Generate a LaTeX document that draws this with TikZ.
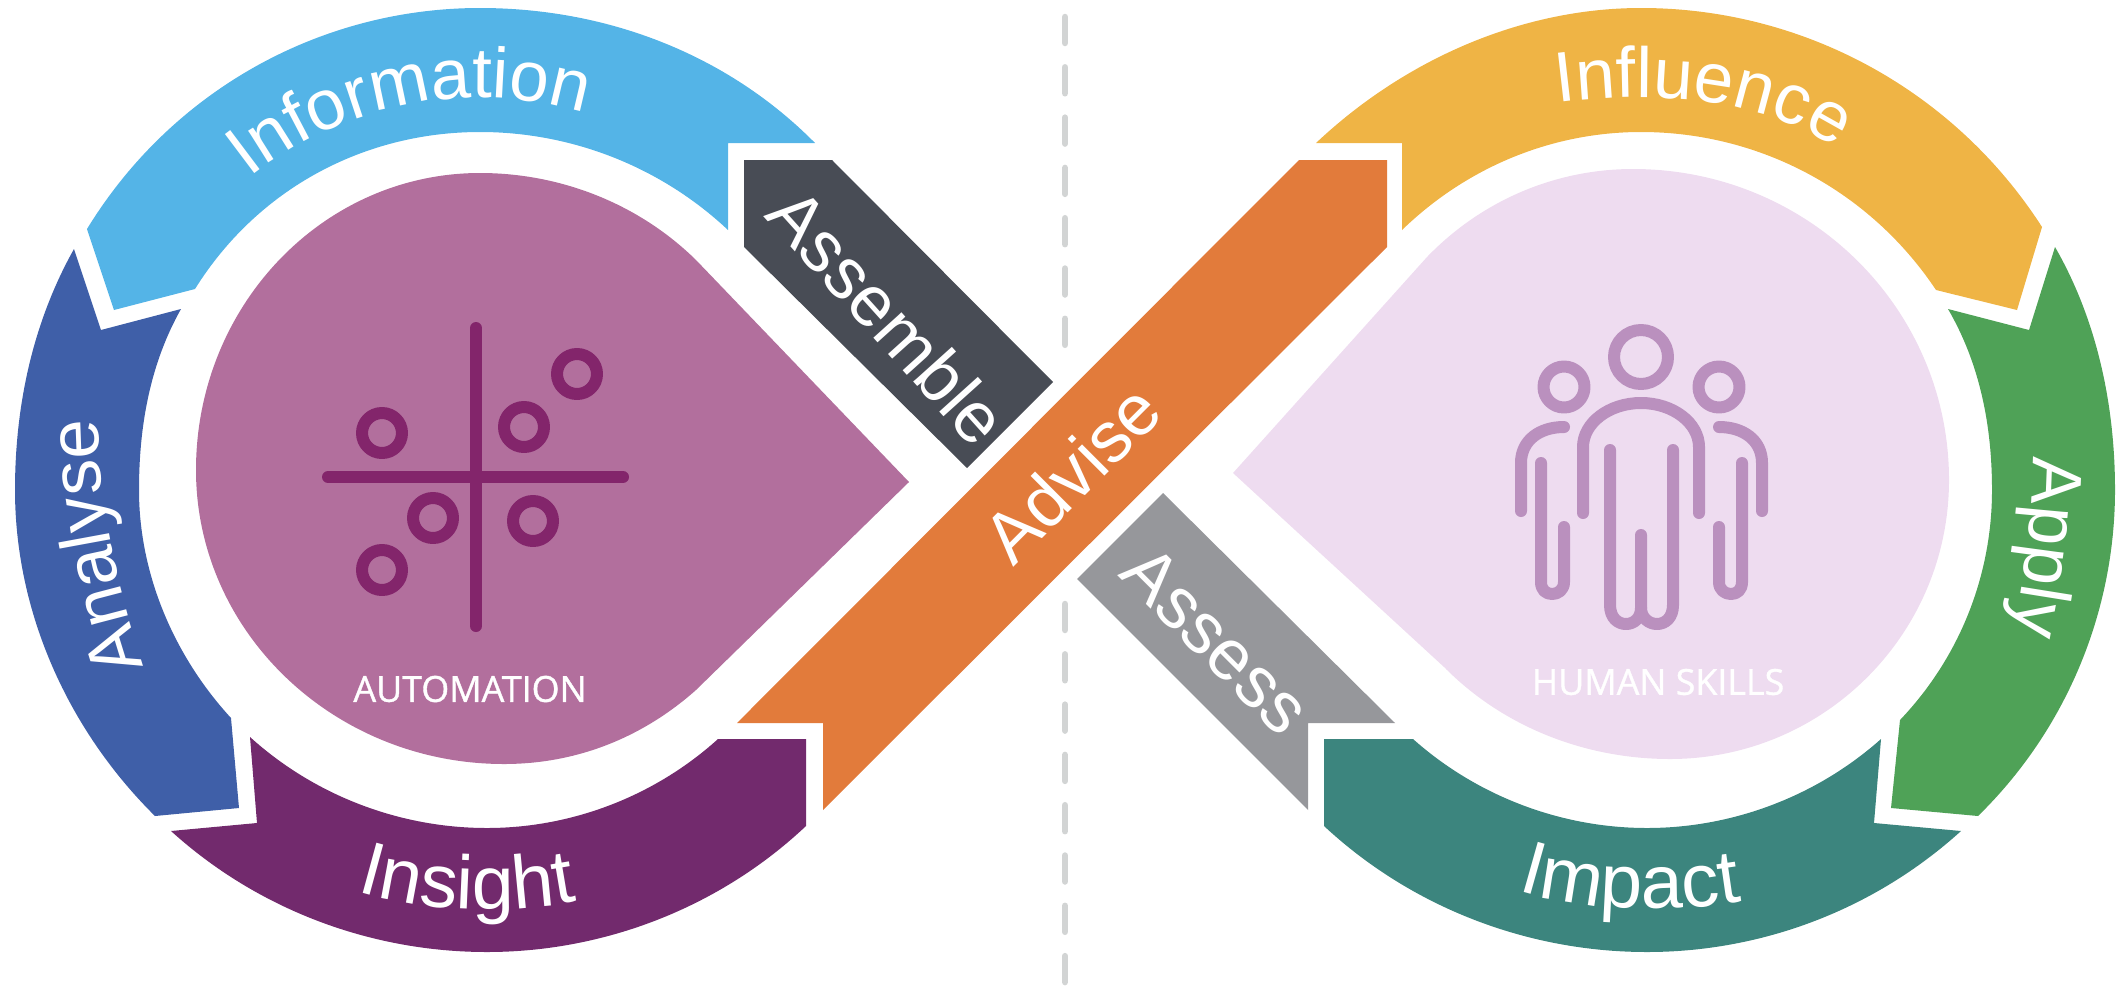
\documentclass[tikz,border=0pt]{standalone}
\usepackage{fontspec}
\setmainfont{Liberation Sans}
\newfontfamily\tagfont[FakeBold=1]{Open Sans}
\usetikzlibrary{decorations.text}
\definecolor{infoblue}{HTML}{54B4E7}
\definecolor{analyseblue}{HTML}{3F5FA8}
\definecolor{insightpurple}{HTML}{722A6D}
\definecolor{adviseorange}{HTML}{E27B3B}
\definecolor{assembleslate}{HTML}{484C55}
\definecolor{assessgrey}{HTML}{96979B}
\definecolor{impactteal}{HTML}{3C857E}
\definecolor{applygreen}{HTML}{4FA257}
\definecolor{influenceyellow}{HTML}{EFB445}
\definecolor{autofill}{HTML}{B26F9D}
\definecolor{autoicon}{HTML}{83256B}
\definecolor{humanfill}{HTML}{EEDCF0}
\definecolor{humanicon}{HTML}{BA90BE}
\definecolor{splitgrey}{HTML}{D2D4D4}
\newcommand\bandfont{\fontsize{20.2}{24}\selectfont\color{white}}
\newcommand\lowbandfont{\fontsize{21.5}{24}\selectfont\color{white}}
\tikzset{
  straightlabel/.style={text=white,anchor=base,inner sep=0pt,font=\fontsize{20.4}{24}\selectfont},
  taglabel/.style={text=white,inner sep=0pt,font=\tagfont\fontsize{10.2}{12}\selectfont},
  curvedlabel/.style={decorate,decoration={text along path,text align={align=center},text={|\bandfont|#1}}},
  lowcurvedlabel/.style={decorate,decoration={text along path,text align={align=center},text={|\lowbandfont|#1}}},
  iconline/.style={line width=1.2mm,line cap=round,line join=round,draw=#1},
  splitline/.style={draw=splitgrey,line width=0.65mm,line cap=round,dash pattern=on 2.6mm off 2.43mm}
}
\begin{document}
\begin{tikzpicture}[x=0.1mm,y=-0.1mm]
  \useasboundingbox (0,0) rectangle (2117,986);

  \coordinate (splittop) at (1065,17);
  \coordinate (splitmid) at (1065,349);
  \coordinate (splitlow) at (1065,604);
  \coordinate (splitend) at (1065,985);
  \draw[splitline] (splittop) -- (splitmid);
  \draw[splitline] (splitlow) -- (splitend);

  \fill[infoblue] (87,229) .. controls (172,90) and (321,8) .. (480,8)
    .. controls (605,8) and (726,53) .. (815,143) -- (728,143) -- (728,230)
    .. controls (661,167) and (572,132) .. (480,132)
    .. controls (365,132) and (258,188) .. (195,289) -- (114,310) -- cycle;
  \fill[analyseblue] (74,249) -- (101,330) -- (181,309)
    .. controls (150,364) and (139,426) .. (139,490)
    .. controls (139,574) and (174,656) .. (231,718) -- (239,808) -- (155,816)
    .. controls (68,730) and (15,612) .. (15,490)
    .. controls (15,405) and (33,322) .. (74,249) -- cycle;
  \fill[insightpurple] (250,737) .. controls (314,795) and (399,828) .. (487,828)
    .. controls (572,828) and (655,796) .. (718,739) -- (806,739) -- (806,826)
    .. controls (720,907) and (605,952) .. (487,952)
    .. controls (370,952) and (257,909) .. (171,831) -- (257,823) -- cycle;
  \fill[adviseorange] (823,810) -- (823,723) -- (737,723) -- (1299,160) -- (1387,160) -- (1387,247) -- cycle;
  \fill[assembleslate] (744,160) -- (832,160) -- (1053,382) -- (967,468) -- (744,247) -- cycle;
  \fill[assessgrey] (1163,493) -- (1395,723) -- (1308,723) -- (1308,810) -- (1077,579) -- cycle;
  \fill[impactteal] (1324,739) -- (1413,739) .. controls (1477,796) and (1561,828) .. (1647,828)
    .. controls (1733,828) and (1817,796) .. (1881,739) -- (1874,823) -- (1961,831)
    .. controls (1875,909) and (1763,952) .. (1647,952)
    .. controls (1527,952) and (1411,907) .. (1324,826) -- cycle;
  \fill[applygreen] (2055,247) .. controls (2097,320) and (2115,405) .. (2115,490)
    .. controls (2115,612) and (2066,730) .. (1978,816) -- (1891,808) -- (1900,720)
    .. controls (1960,657) and (1992,575) .. (1992,490)
    .. controls (1992,426) and (1980,364) .. (1948,309) -- (2029,330) -- cycle;
  \fill[influenceyellow] (1316,143) .. controls (1404,60) and (1521,8) .. (1641,8)
    .. controls (1803,8) and (1954,90) .. (2042,227) -- (2017,310) -- (1936,290)
    .. controls (1870,191) and (1760,132) .. (1641,132)
    .. controls (1552,132) and (1467,167) .. (1402,230) -- (1402,143) -- cycle;

  \fill[autofill] (909,482) -- (696,260) .. controls (639,204) and (561,173) .. (480,173)
    .. controls (323,173) and (196,306) .. (196,470)
    .. controls (196,632) and (334,764) .. (504,764)
    .. controls (576,764) and (642,738) .. (696,690) -- cycle;
  \fill[humanfill] (1233,473) -- (1427,257) .. controls (1482,200) and (1556,169) .. (1633,169)
    .. controls (1808,169) and (1949,308) .. (1949,480)
    .. controls (1949,634) and (1824,759) .. (1670,759)
    .. controls (1584,759) and (1502,726) .. (1444,667) -- cycle;

  \path[curvedlabel=Information] (252,176) .. controls (330,115) and (450,75) .. (582,112);
  \path[curvedlabel=Influence] (1565,102) .. controls (1650,92) and (1750,95) .. (1830,145);
  \path[lowcurvedlabel=Insight] (352,890) .. controls (420,912) and (510,915) .. (582,900);
  \path[lowcurvedlabel=Impact] (1510,888) .. controls (1570,910) and (1670,915) .. (1750,900);
  \path[curvedlabel=Analyse] (143,665) .. controls (118,590) and (98,500) .. (98,420);
  \path[curvedlabel=Apply] (2033,450) .. controls (2033,500) and (2028,560) .. (2012,640);

  \node[straightlabel,rotate=-48] (assemblelabel) at (869,333) {Assemble};
  \node[straightlabel,rotate=-45] (assesslabel) at (1199,657) {Assess};
  \node[straightlabel,rotate=45] (adviselabel) at (1090,491) {Advise};
  \node[taglabel] (autotag) at (470,689) {AUTOMATION};
  \node[taglabel] (humantag) at (1658,682) {HUMAN SKILLS};

  \draw[iconline=autoicon] (476,328) -- (476,626);
  \draw[iconline=autoicon] (328,477) -- (623,477);
  \foreach \x/\y in {382/433,577/374,524/427,433/518,533/521,382/570} {
    \draw[iconline=autoicon] (\x,\y) circle (2mm);
  }

  \draw[iconline=humanicon] (1641,357) circle (2.7mm);
  \foreach \x in {1564,1719} {
    \draw[iconline=humanicon] (\x,387) circle (2.05mm);
  }
  \draw[iconline=humanicon] (1583,513) -- (1583,447) .. controls (1583,423) and (1609,403) .. (1641,403)
    .. controls (1673,403) and (1699,423) .. (1699,447) -- (1699,513);
  \draw[iconline=humanicon] (1610,450) -- (1610,605) .. controls (1610,618) and (1618,624) .. (1626,624)
    .. controls (1634,624) and (1641,618) .. (1641,608) -- (1641,535);
  \draw[iconline=humanicon] (1673,450) -- (1673,605) .. controls (1673,618) and (1665,624) .. (1657,624)
    .. controls (1649,624) and (1641,618) .. (1641,608);
  \draw[iconline=humanicon] (1564,427) .. controls (1540,427) and (1521,440) .. (1521,463) -- (1521,511);
  \draw[iconline=humanicon] (1541,463) -- (1541,582) .. controls (1541,590) and (1546,594) .. (1552,594)
    .. controls (1558,594) and (1564,590) .. (1564,582) -- (1564,527);
  \draw[iconline=humanicon] (1719,427) .. controls (1743,427) and (1762,440) .. (1762,463) -- (1762,511);
  \draw[iconline=humanicon] (1742,463) -- (1742,582) .. controls (1742,590) and (1737,594) .. (1731,594)
    .. controls (1725,594) and (1719,590) .. (1719,582) -- (1719,527);
\end{tikzpicture}
\end{document}
